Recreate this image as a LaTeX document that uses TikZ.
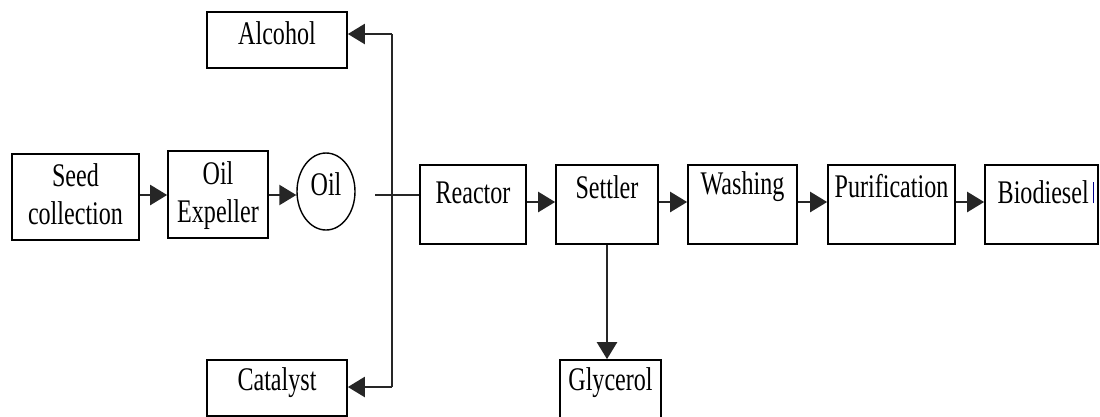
\documentclass[tikz,border=0pt]{standalone}
\usepackage{fontspec}
\setmainfont{Liberation Serif}[FakeStretch=0.73]
\usetikzlibrary{arrows.meta,shapes.geometric}
\begin{document}
\begin{tikzpicture}[x=1pt,y=-1pt,
  box/.style={draw=black,line width=1.7pt,minimum width=#1,inner sep=0pt,fill=none},
  lbl/.style={inner sep=0pt,align=center,font=\fontsize{33}{38}\selectfont},
  conn/.style={draw=black!85,line width=2.4pt},
  arr/.style={conn,-{Triangle[length=17pt,width=20pt]}}]
\useasboundingbox (0,0) rectangle (1100,416);
\clip (0,0) rectangle (1100,416);
% left chain
\node[box=127pt,minimum height=86pt] (seed) at (75.5,197) {};
\node[lbl] (seedT) at (75.5,194) {Seed\\collection};
\node[box=100pt,minimum height=87pt] (exp) at (218,194.5) {};
\node[lbl] (expT) at (218,195.5) {Oil\\Expeller};
\node[draw=black,line width=1.4pt,ellipse,minimum width=58pt,minimum height=77pt,inner sep=0pt] (oil) at (326,191.5) {};
\node[lbl] (oilT) at (326,184.5) {Oil};
% side boxes
\node[box=140pt,minimum height=56pt] (alc) at (277,40) {};
\node[lbl] (alcT) at (277,33) {Alcohol};
\node[box=140pt,minimum height=56pt] (cat) at (277,388) {};
\node[lbl] (catT) at (277,383) {Catalyst};
% main chain
\node[box=106pt,minimum height=79pt] (reac) at (473,204.5) {};
\node[lbl] (reacT) at (473,193) {Reactor};
\node[box=102pt,minimum height=79pt] (sett) at (607,204.5) {};
\node[lbl] (settT) at (607,187) {Settler};
\node[box=109pt,minimum height=79pt] (wash) at (742.5,204.5) {};
\node[lbl] (washT) at (742.5,187) {Washing};
\node[box=127pt,minimum height=79pt] (puri) at (891.5,204.5) {};
\node[lbl] (puriT) at (891.5,186) {Purification};
\node[box=113pt,minimum height=79pt] (bio) at (1041.5,204.5) {};
\node[lbl] (bioT) at (1046,192) {Biodiesel\hspace{4pt}{\color{blue!55!black}\rule[0pt]{1.6pt}{21pt}}};
\node[box=101pt,minimum height=80pt] (gly) at (610.5,400) {};
\node[lbl] (glyT) at (610.5,383) {Glycerol};
% junction coordinates
\coordinate (jstart) at (375,195);
\coordinate (jtop) at (392,34);
\coordinate (jbot) at (392,387);
% connectors
\draw[arr] (seed.east |- 0,195) -- (exp.west |- 0,195);
\draw[arr] (exp.east |- 0,195) -- (oil.west |- 0,195);
\draw[conn] (jstart) -- (reac.west |- jstart);
\draw[conn] (jtop) -- (jbot);
\draw[arr] (jtop) -- (alc.east |- jtop);
\draw[arr] (jbot) -- (cat.east |- jbot);
\draw[arr] (reac.east |- 0,202) -- (sett.west |- 0,202);
\draw[arr] (sett.east |- 0,202) -- (wash.west |- 0,202);
\draw[arr] (wash.east |- 0,202) -- (puri.west |- 0,202);
\draw[arr] (puri.east |- 0,202) -- (bio.west |- 0,202);
\draw[arr] (sett.south) -- (gly.north -| sett.south);
\end{tikzpicture}
\end{document}
